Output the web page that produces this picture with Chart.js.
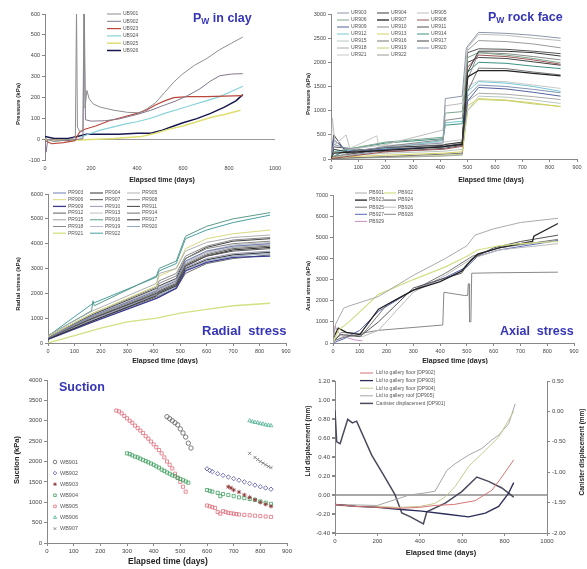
<!DOCTYPE html>
<html>
<head>
<meta charset="utf-8">
<script src="https://cdn.jsdelivr.net/npm/chart.js@4.4.1/dist/chart.umd.min.js"></script>
<style>
body { margin: 0; background: #fff; width: 587px; height: 569px; overflow: hidden; position: relative; }
canvas { position: absolute; }
</style>
</head>
<body>
<canvas id="c1"></canvas>
<canvas id="c2"></canvas>
<canvas id="c3"></canvas>
<canvas id="c4"></canvas>
<canvas id="c5"></canvas>
<canvas id="c6"></canvas>
<script>
// ---------- Pw in clay ----------
const ub901 = [[0,5],[40,-10],[100,0],[132,10],[137,620],[141,60],[150,40],[165,40],[169,620],[174,150],[182,235],[192,195],[210,170],[240,155],[300,140],[360,130],[410,128],[440,145],[480,175],[520,225],[560,275],[600,315],[650,355],[700,385],[760,430],[810,460],[860,490]];
const ub902 = [[0,0],[5,-60],[12,0],[100,-5],[165,5],[171,610],[176,95],[200,88],[260,90],[320,98],[400,120],[460,140],[520,165],[570,185],[620,210],[670,240],[720,280],[760,305],[810,313],[860,315]];
const ub923 = [[0,-5],[30,-20],[80,-15],[130,-5],[150,35],[170,48],[220,65],[280,90],[340,108],[400,125],[440,140],[480,165],[520,185],[560,200],[620,205],[700,205],[780,208],[860,210]];
const ub924 = [[150,10],[200,30],[240,45],[290,58],[350,75],[400,85],[460,102],[520,125],[580,145],[640,165],[700,185],[760,205],[810,230],[860,255]];
const ub925 = [[0,0],[100,-5],[200,0],[300,5],[420,15],[480,30],[540,50],[600,65],[660,85],[720,105],[780,120],[850,140]];
const ub926 = [[0,15],[40,5],[100,5],[140,15],[180,25],[250,25],[320,25],[400,30],[460,30],[510,45],[560,65],[600,80],[660,100],[720,125],[780,155],[830,185],[860,215]];

// ---------- Pw rock face ----------
const ur903 = [[0,50],[10,300],[60,220],[100,180],[200,250],[410,330],[418,1250],[480,1300],[495,2300],[540,2620],[640,2600],[740,2560],[840,2500]];
const ur904 = [[0,20],[10,200],[60,150],[200,240],[410,280],[418,300],[480,350],[500,1800],[540,2230],[640,2230],[740,2200],[840,2130]];
const ur905 = [[0,100],[5,850],[15,300],[55,500],[70,200],[200,300],[410,600],[418,1100],[480,1150],[500,2300],[540,2580],[640,2560],[740,2500],[840,2450]];
const ur906 = [[0,30],[10,150],[200,350],[410,450],[418,950],[480,980],[500,2100],[540,2200],[640,2150],[740,2080],[840,1990]];
const ur907 = [[0,20],[10,120],[200,180],[410,250],[418,260],[480,300],[500,1700],[540,1830],[640,1830],[740,1770],[840,1720]];
const ur908 = [[0,10],[200,150],[410,200],[480,260],[500,1900],[540,2150],[640,2120],[740,2050],[840,1960]];
const ur909 = [[0,30],[10,400],[60,160],[200,200],[410,250],[480,300],[500,1200],[540,1480],[640,1450],[740,1380],[840,1300]];
const ur910 = [[0,40],[200,260],[410,400],[418,800],[480,850],[500,1650],[540,2200],[640,2180],[740,2120],[840,2050]];
const ur911 = [[0,20],[10,250],[200,150],[410,220],[480,280],[500,2200],[540,2280],[640,2270],[740,2230],[840,2180]];
const ur912 = [[0,20],[10,150],[200,220],[410,380],[418,750],[480,780],[500,1400],[540,1600],[640,1570],[740,1500],[840,1400]];
const ur913 = [[0,30],[200,80],[410,120],[480,150],[500,1100],[540,1250],[640,1220],[740,1160],[840,1080]];
const ur914 = [[0,20],[60,200],[200,330],[410,420],[418,700],[480,730],[500,1800],[540,2000],[640,1980],[740,1920],[840,1870]];
const ur915 = [[0,50],[200,120],[410,160],[480,200],[500,1000],[540,1300],[640,1280],[740,1220],[840,1150]];
const ur916 = [[0,10],[200,50],[410,100],[480,120],[500,1400],[540,1880],[640,1870],[740,1800],[840,1740]];
const ur917 = [[0,40],[10,500],[60,100],[200,200],[410,260],[480,320],[500,2000],[540,2100],[640,2080],[740,2010],[840,1940]];
const ur918 = [[0,10],[200,30],[410,60],[480,80],[500,1200],[540,1360],[640,1340],[740,1290],[840,1230]];
const ur919 = [[0,15],[200,40],[410,70],[480,100],[500,1000],[540,1230],[640,1210],[740,1140],[840,1090]];
const ur920 = [[0,25],[200,180],[410,260],[480,300],[500,1300],[540,1530],[640,1500],[740,1440],[840,1370]];
const ur921 = [[0,35],[168,480],[175,250],[200,280],[410,350],[480,400],[500,1500],[540,1620],[640,1600],[740,1530],[840,1460]];
const ur922 = [[0,40],[200,220],[410,300],[480,340],[500,2250],[540,2450],[640,2430],[740,2380],[840,2300]];

// ---------- Radial stress ----------
const pr903 = [[0,200],[170,1100],[410,2100],[420,2200],[485,2500],[520,3300],[600,3700],[700,3900],[840,4000]];
const pr904 = [[0,150],[170,900],[410,1900],[420,2000],[485,2300],[520,3000],[600,3350],[700,3550],[840,3650]];
const pr905 = [[0,300],[170,1300],[410,2400],[420,2800],[485,3000],[520,3700],[600,4050],[700,4250],[840,4350]];
const pr906 = [[0,250],[170,1200],[410,2300],[420,2700],[485,3000],[520,3800],[600,4200],[700,4400],[840,4550]];
const pr907 = [[0,200],[170,1000],[410,2000],[420,2100],[485,2400],[520,3100],[600,3500],[700,3700],[840,3800]];
const pr908 = [[0,180],[170,1050],[410,2050],[420,2400],[485,2700],[520,3400],[600,3800],[700,4000],[840,4100]];
const pr909 = [[0,150],[170,850],[410,1800],[420,1850],[485,2200],[520,2900],[600,3250],[700,3450],[840,3500]];
const pr910 = [[0,200],[170,950],[410,1950],[420,2000],[485,2300],[520,3050],[600,3400],[700,3600],[840,3700]];
const pr911 = [[0,250],[170,1150],[410,2200],[420,2300],[485,2600],[520,3400],[600,3850],[700,4100],[840,4200]];
const pr912 = [[0,180],[170,1000],[410,2000],[420,2050],[485,2350],[520,3150],[600,3550],[700,3800],[840,3900]];
const pr913 = [[0,220],[170,1100],[410,2150],[420,2250],[485,2550],[520,3300],[600,3700],[700,3950],[840,4050]];
const pr914 = [[0,170],[170,900],[410,1850],[420,1900],[485,2200],[520,2800],[600,3200],[700,3400],[840,3550]];
const pr915 = [[0,200],[170,1050],[410,2050],[420,2150],[485,2450],[520,3200],[600,3600],[700,3850],[840,3950]];
const pr916 = [[0,300],[165,1300],[170,1700],[175,1500],[410,2700],[420,3000],[485,3300],[520,4300],[600,4700],[700,5000],[840,5250]];
const pr917 = [[0,200],[170,1000],[410,1950],[420,2050],[485,2350],[520,3100],[600,3500],[700,3750],[840,3850]];
const pr918 = [[0,250],[170,1200],[410,2250],[420,2500],[485,2800],[520,3500],[600,3900],[700,4150],[840,4250]];
const pr919 = [[0,200],[170,1100],[410,2100],[420,2200],[485,2500],[520,3250],[600,3650],[700,3900],[840,4000]];
const pr920 = [[0,150],[170,950],[410,1900],[420,1950],[485,2250],[520,2950],[600,3300],[700,3500],[840,3600]];
const pr921 = [[0,0],[100,300],[200,600],[300,850],[410,1000],[500,1200],[600,1350],[700,1500],[840,1600]];
const pr922 = [[0,280],[170,1600],[410,2650],[420,2900],[485,3200],[520,4200],[600,4550],[700,4850],[840,5150]];

// ---------- Axial stress ----------
const pb901 = [[0,0],[10,900],[40,1650],[60,1750],[170,2200],[300,3200],[420,4000],[500,4600],[530,5100],[600,5400],[700,5700],[840,5900]];
const pb902 = [[0,0],[20,600],[60,1000],[170,2300],[300,3000],[420,3600],[500,4100],[540,4400],[620,4600],[700,4700],[840,4800]];
const pb923 = [[0,200],[20,700],[50,500],[100,400],[170,1600],[300,2500],[400,2900],[480,3400],[500,3700],[540,4200],[620,4500],[700,4700],[745,4800],[750,5050],[840,5650]];
const pb924 = [[0,100],[30,400],[100,300],[170,1000],[300,2600],[400,3000],[480,3300],[520,4000],[600,4500],[700,4800],[840,5100]];
const pb925 = [[0,100],[50,300],[110,400],[200,1800],[300,2500],[420,3300],[520,4100],[620,4500],[840,4900]];
const pb926 = [[0,50],[50,400],[110,300],[170,600],[300,2400],[420,3200],[520,4000],[620,4400],[840,4700]];
const pb927 = [[0,0],[40,200],[100,600],[170,1500],[300,2500],[420,3100],[500,3600],[540,4100],[620,4400],[840,4850]];
const pb928 = [[0,0],[30,500],[100,450],[170,600],[410,850],[414,2400],[490,2250],[503,2250],[505,2800],[508,2800],[510,1000],[515,1000],[518,3300],[600,3320],[840,3350]];
const pb929 = [[0,200],[8,800],[20,500],[40,300],[80,150],[110,100]];

// ---------- Suction ----------
const wb901 = [[450,3100],[460,3050],[470,3000],[480,2950],[490,2900],[500,2800],[510,2700],[520,2600],[530,2450],[540,2330]];
const wb902 = [[600,1820],[610,1780],[620,1750],[640,1700],[660,1660],[680,1620],[700,1580],[720,1540],[740,1500],[760,1460],[780,1420],[800,1380],[820,1350],[840,1320]];
const wb903 = [[680,1380],[690,1350],[700,1300],[720,1250],[740,1180],[760,1120],[780,1060],[800,1000],[820,950],[840,900]];
const wb904 = [[300,2200],[310,2180],[320,2150],[330,2120],[340,2100],[350,2070],[360,2040],[370,2010],[380,1980],[390,1950],[400,1920],[410,1880],[420,1850],[430,1800],[440,1770],[450,1730],[460,1700],[470,1660],[480,1640],[490,1600],[500,1570],[510,1540],[520,1510],[530,1480],[600,1300],[610,1280],[620,1260],[640,1230],[650,1150],[660,1200],[680,1180],[700,1150],[720,1120],[740,1100],[760,1080],[780,1060],[800,1020],[820,990],[840,960]];
const wb905 = [[260,3250],[270,3230],[280,3180],[290,3120],[300,3060],[310,3000],[320,2950],[330,2880],[340,2820],[350,2760],[360,2700],[370,2620],[380,2560],[390,2490],[400,2420],[410,2350],[420,2280],[430,2200],[440,2100],[450,2000],[460,1920],[470,1830],[480,1700],[490,1600],[500,1500],[510,1380],[520,1260],[600,920],[610,900],[620,880],[630,860],[640,760],[650,720],[660,780],[670,760],[680,740],[690,730],[700,720],[710,710],[720,700],[740,690],[760,680],[780,670],[800,660],[820,650],[840,640]];
const wb906 = [[760,3000],[770,2980],[780,2960],[790,2950],[800,2930],[810,2920],[820,2900],[830,2890],[840,2880]];
const wb907 = [[760,2200],[780,2100],[790,2050],[800,2000],[810,1960],[820,1920],[830,1880],[840,1850]];

// ---------- Displacement ----------
const dp902 = [[0,-0.10],[100,-0.12],[200,-0.13],[300,-0.14],[400,-0.13],[472,-0.11],[560,-0.10],[661,-0.06],[740,0.05],[787,0.19],[843,0.37]];
const dp903 = [[0,-0.10],[100,-0.12],[200,-0.13],[300,-0.15],[409,-0.17],[520,-0.20],[630,-0.23],[709,-0.19],[772,-0.12],[819,0.02],[843,0.13]];
const dp904 = [[0,-0.11],[100,-0.12],[200,-0.12],[300,-0.13],[400,-0.12],[470,-0.09],[520,-0.02],[567,0.09],[630,0.30],[709,0.47],[772,0.61],[843,0.88]];
const dp905 = [[0,-0.10],[200,-0.11],[350,0.00],[420,0.02],[472,0.04],[528,0.26],[567,0.33],[630,0.42],[693,0.49],[740,0.58],[772,0.63],[819,0.75],[850,0.96]];
const dp901 = [[0,0.02],[8,-0.50],[24,-0.53],[60,-0.13],[82,-0.19],[102,-0.16],[173,-0.72],[228,-1.04],[283,-1.37],[315,-1.67],[354,-1.73],[417,-1.85],[433,-1.65],[520,-1.51],[598,-1.32],[669,-1.08],[724,-1.15],[787,-1.26],[843,-1.41]];

const FONT = '"Liberation Sans", Arial, sans-serif';
const BLUE = '#3535b5';

// draws panel titles, manual axis titles and the legends
const overlay = {
  id: 'overlay',
  afterDraw(chart, args, o) {
    const ctx = chart.ctx;
    ctx.save();
    (o.texts || []).forEach(t => {
      ctx.save();
      ctx.translate(t.x, t.y);
      if (t.rot) ctx.rotate(t.rot * Math.PI / 180);
      ctx.fillStyle = t.color || '#222';
      ctx.textBaseline = 'middle';
      if (t.parts) {
        ctx.textAlign = 'left';
        let x = 0;
        t.parts.forEach(p => {
          ctx.font = p.font;
          ctx.fillText(p.text, x, p.dy || 0);
          x += ctx.measureText(p.text).width;
        });
      } else {
        ctx.textAlign = t.align || 'center';
        ctx.font = t.font;
        ctx.fillText(t.text, 0, 0);
      }
      ctx.restore();
    });
    const L = o.legend;
    if (L) {
      ctx.font = L.font;
      ctx.textBaseline = 'middle';
      ctx.textAlign = 'left';
      chart.data.datasets.forEach((ds, i) => {
        const c = i % L.cols, r = Math.floor(i / L.cols);
        const x = L.x + c * L.dx, y = L.y + r * L.dy;
        ctx.strokeStyle = ds.borderColor;
        if (L.marker && Chart.helpers && Chart.helpers.drawPoint) {
          ctx.fillStyle = 'rgba(0,0,0,0)';
          ctx.lineWidth = 0.8;
          Chart.helpers.drawPoint(ctx, {pointStyle: ds.pointStyle, radius: 1.8, rotation: 0, borderWidth: 0.8}, x + L.len / 2, y);
        } else {
          ctx.lineWidth = ds.borderWidth || 1;
          ctx.beginPath();
          ctx.moveTo(x, y);
          ctx.lineTo(x + L.len, y);
          ctx.stroke();
        }
        ctx.fillStyle = L.color || '#555';
        ctx.fillText(ds.label, x + L.len + L.gap, y);
      });
    }
    ctx.restore();
  }
};

function lineSet(label, data, color, width, axis) {
  return { label: label, data: data, borderColor: color, backgroundColor: color, borderWidth: width || 1,
           pointRadius: 0, tension: 0, yAxisID: axis || 'y' };
}

function dotSet(label, data, color, style) {
  return { label: label, data: data, borderColor: color, backgroundColor: 'rgba(0,0,0,0)', showLine: false,
           pointStyle: style, pointRadius: 2.2, pointBorderWidth: 0.8, yAxisID: 'y' };
}

function axisX(o, h) {
  return {
    type: 'linear', min: o.min, max: o.max,
    ticks: { stepSize: o.step, font: { family: FONT, size: o.fs }, color: '#444', padding: 2, maxRotation: 0, autoSkip: false, callback: v => v },
    grid: { display: o.grid !== false, drawOnChartArea: false, tickLength: 3, color: '#888' },
    border: { display: o.border !== false, color: '#888' },
    afterFit: s => { s.height = h; }
  };
}

function axisY(o, w, pos) {
  return {
    type: 'linear', position: pos, min: o.min, max: o.max,
    ticks: { stepSize: o.step, font: { family: FONT, size: o.fs }, color: '#444', padding: 2, autoSkip: false, callback: o.fmt || (v => v) },
    grid: { drawOnChartArea: !!o.zero, color: c => (o.zero && c.tick && c.tick.value === 0) ? o.zero : 'rgba(0,0,0,0)',
            lineWidth: o.zeroW || 1, tickColor: '#888', tickLength: 3 },
    border: { color: '#888' },
    afterFit: s => { s.width = w; }
  };
}

function shift(o, box) {
  const out = {};
  if (o.texts) out.texts = o.texts.map(t => Object.assign({}, t, { x: t.x - box.x, y: t.y - box.y }));
  if (o.legend) out.legend = Object.assign({}, o.legend, { x: o.legend.x - box.x, y: o.legend.y - box.y });
  return out;
}

function panel(id, box, area, opt) {
  const cv = document.getElementById(id);
  cv.width = box.w; cv.height = box.h;
  cv.style.left = box.x + 'px'; cv.style.top = box.y + 'px';
  const scales = {
    x: axisX(opt.x, box.y + box.h - area.b),
    y: axisY(opt.y, area.l - box.x, 'left')
  };
  if (opt.y2) scales.y2 = axisY(opt.y2, box.x + box.w - area.r, 'right');
  return new Chart(cv, {
    type: 'line',
    data: { datasets: opt.datasets },
    options: {
      responsive: false, animation: false, events: [],
      layout: { padding: { left: 0, top: area.t - box.y, right: opt.y2 ? 0 : box.x + box.w - area.r, bottom: 0 } },
      plugins: { legend: { display: false }, tooltip: { enabled: false }, overlay: shift(opt.overlay, box) },
      scales: scales
    },
    plugins: [overlay]
  });
}

const tick1 = 5.5, tick2 = 6;
const yT1 = 'bold 6px ' + FONT, xT1 = 'bold 7px ' + FONT;
const big = 'bold 12.5px ' + FONT, sub = 'bold 8.5px ' + FONT;
const leg1 = '5px ' + FONT;

panel('c1', {x: 0, y: 0, w: 292, h: 184}, {l: 45, t: 14, r: 275, b: 160.5}, {
  x: { min: 0, max: 1000, step: 200, fs: tick1, border: false, grid: false },
  y: { min: -100, max: 600, step: 100, fs: tick1, zero: '#999' },
  datasets: [
    lineSet('UB901', ub901, '#8e8e8e', 1),
    lineSet('UB902', ub902, '#85778d', 1),
    lineSet('UB923', ub923, '#b9483c', 1.2),
    lineSet('UB924', ub924, '#86d2d8', 1.2),
    lineSet('UB925', ub925, '#dede72', 1.5),
    lineSet('UB926', ub926, '#16164e', 1.5)
  ],
  overlay: {
    texts: [
      { parts: [{ text: 'P', font: big }, { text: 'W', font: sub, dy: 3 }, { text: ' in clay', font: big }], x: 193, y: 19, color: BLUE },
      { text: 'Pressure (kPa)', x: 18, y: 104, rot: -90, font: yT1 },
      { text: 'Elapsed time (days)', x: 162, y: 180, font: xT1 }
    ],
    legend: { x: 107, y: 14, cols: 1, dx: 0, dy: 7.3, len: 14, gap: 2, font: leg1 }
  }
});

panel('c2', {x: 295, y: 0, w: 292, h: 184}, {l: 331, t: 14, r: 577, b: 159}, {
  x: { min: 0, max: 900, step: 100, fs: tick1 },
  y: { min: 0, max: 3000, step: 500, fs: tick1 },
  datasets: [
    lineSet('UR903', ur903, '#8d96a8'), lineSet('UR904', ur904, '#3a3a3a'), lineSet('UR905', ur905, '#bdbdbd'),
    lineSet('UR906', ur906, '#7fa58e'), lineSet('UR907', ur907, '#222222', 1.3), lineSet('UR908', ur908, '#9c5656'),
    lineSet('UR909', ur909, '#5462a0'), lineSet('UR910', ur910, '#8a8a8a'), lineSet('UR911', ur911, '#555555'),
    lineSet('UR912', ur912, '#74c8d2'), lineSet('UR913', ur913, '#d6d064'), lineSet('UR914', ur914, '#3c9282'),
    lineSet('UR915', ur915, '#b8c8c0'), lineSet('UR916', ur916, '#777777'), lineSet('UR917', ur917, '#444444'),
    lineSet('UR918', ur918, '#aaaaaa'), lineSet('UR919', ur919, '#bcd274'), lineSet('UR920', ur920, '#8292b2'),
    lineSet('UR921', ur921, '#c8c8c8'), lineSet('UR922', ur922, '#9a9a9a')
  ],
  overlay: {
    texts: [
      { parts: [{ text: 'P', font: big }, { text: 'W', font: sub, dy: 3 }, { text: ' rock face', font: big }], x: 488, y: 18, color: BLUE },
      { text: 'Pressure (kPa)', x: 308, y: 94, rot: -90, font: yT1 },
      { text: 'Elapsed time (days)', x: 491, y: 180, font: xT1 }
    ],
    legend: { x: 337, y: 13, cols: 3, dx: 40, dy: 7, len: 12, gap: 2, font: leg1 }
  }
});

panel('c3', {x: 0, y: 182, w: 295, h: 182}, {l: 48, t: 194, r: 286, b: 343}, {
  x: { min: 0, max: 900, step: 100, fs: tick1 },
  y: { min: 0, max: 6000, step: 1000, fs: tick1 },
  datasets: [
    lineSet('PR903', pr903, '#6f7fb0'), lineSet('PR904', pr904, '#333333'), lineSet('PR905', pr905, '#b0b0b0'),
    lineSet('PR906', pr906, '#d8d880'), lineSet('PR907', pr907, '#555555'), lineSet('PR908', pr908, '#888888'),
    lineSet('PR909', pr909, '#3a3a90', 1.3), lineSet('PR910', pr910, '#9a9ab8'), lineSet('PR911', pr911, '#444444'),
    lineSet('PR912', pr912, '#606060'), lineSet('PR913', pr913, '#c0c0c0'), lineSet('PR914', pr914, '#707070'),
    lineSet('PR915', pr915, '#a0a0a0'), lineSet('PR916', pr916, '#5a9a8a'), lineSet('PR917', pr917, '#2a2a2a'),
    lineSet('PR918', pr918, '#8a8a8a'), lineSet('PR919', pr919, '#b8b8d0'), lineSet('PR920', pr920, '#90a8c0'),
    lineSet('PR921', pr921, '#d4e084', 1.3), lineSet('PR922', pr922, '#4aa0a0')
  ],
  overlay: {
    texts: [
      { text: 'Radial  stress', x: 202, y: 331, align: 'left', font: 'bold 13px ' + FONT, color: BLUE },
      { text: 'Radial stress (kPa)', x: 18, y: 284, rot: -90, font: yT1 },
      { text: 'Elapsed time (days)', x: 165, y: 361, font: xT1 }
    ],
    legend: { x: 53, y: 193, cols: 3, dx: 37, dy: 6.7, len: 13, gap: 2, font: leg1 }
  }
});

panel('c4', {x: 295, y: 182, w: 292, h: 182}, {l: 333, t: 195, r: 574, b: 343}, {
  x: { min: 0, max: 900, step: 100, fs: tick1 },
  y: { min: 0, max: 7000, step: 1000, fs: tick1 },
  datasets: [
    lineSet('PB901', pb901, '#aaaaaa'), lineSet('PB902', pb902, '#d2de84', 1.2),
    lineSet('PB923', pb923, '#222222', 1.3), lineSet('PB924', pb924, '#555555'),
    lineSet('PB925', pb925, '#777777'), lineSet('PB926', pb926, '#bbbbbb'),
    lineSet('PB927', pb927, '#5868b8'), lineSet('PB928', pb928, '#888888'),
    lineSet('PB929', pb929, '#c890c0')
  ],
  overlay: {
    texts: [
      { text: 'Axial  stress', x: 500, y: 332, align: 'left', font: 'bold 12.5px ' + FONT, color: BLUE },
      { text: 'Axial stress (kPa)', x: 308, y: 286, rot: -90, font: yT1 },
      { text: 'Elapsed time (days)', x: 455, y: 361, font: xT1 }
    ],
    legend: { x: 355, y: 193, cols: 2, dx: 29, dy: 7.1, len: 12, gap: 2, font: leg1 }
  }
});

panel('c5', {x: 0, y: 362, w: 295, h: 207}, {l: 47, t: 380, r: 287, b: 543}, {
  x: { min: 0, max: 900, step: 100, fs: tick2 },
  y: { min: 0, max: 4000, step: 500, fs: tick2 },
  datasets: [
    dotSet('WB901', wb901, '#5e5e5e', 'circle'),
    dotSet('WB902', wb902, '#5252a2', 'rectRot'),
    dotSet('WB903', wb903, '#8e3434', 'star'),
    dotSet('WB904', wb904, '#3f9f60', 'rect'),
    dotSet('WB905', wb905, '#e0707e', 'rect'),
    dotSet('WB906', wb906, '#4fb294', 'triangle'),
    dotSet('WB907', wb907, '#707070', 'crossRot')
  ],
  overlay: {
    texts: [
      { text: 'Suction', x: 59, y: 388, align: 'left', font: 'bold 12.5px ' + FONT, color: BLUE },
      { text: 'Suction (kPa)', x: 17, y: 460, rot: -90, font: 'bold 7.5px ' + FONT },
      { text: 'Elapsed time (days)', x: 168, y: 562, font: 'bold 8.5px ' + FONT }
    ],
    legend: { x: 53, y: 462, cols: 1, dx: 0, dy: 11.1, len: 4, gap: 3, font: '5.5px ' + FONT, marker: true }
  }
});

panel('c6', {x: 295, y: 362, w: 292, h: 207}, {l: 335, t: 381, r: 547, b: 533}, {
  x: { min: 0, max: 1000, step: 200, fs: tick2 },
  y: { min: -0.4, max: 1.2, step: 0.2, fs: tick2, fmt: v => v.toFixed(2), zero: '#a8a8a8', zeroW: 2 },
  y2: { min: -2, max: 0.5, step: 0.5, fs: tick2, fmt: v => v.toFixed(2) },
  datasets: [
    lineSet('Lid to gallery floor [DP902]', dp902, '#d87474', 1),
    lineSet('Lid to gallery floor [DP903]', dp903, '#2c2c5a', 1.3),
    lineSet('Lid to gallery floor [DP904]', dp904, '#c8c890', 1),
    lineSet('Lid to gallery roof [DP905]', dp905, '#a6a6a6', 1),
    lineSet('Canister displacement [DP901]', dp901, '#4a4a5c', 1.5, 'y2')
  ],
  overlay: {
    texts: [
      { text: 'Lid displacement (mm)', x: 308, y: 441, rot: -90, font: 'bold 6.5px ' + FONT },
      { text: 'Canister displacement (mm)', x: 582, y: 452, rot: -90, font: 'bold 6.5px ' + FONT },
      { text: 'Elapsed time (days)', x: 441, y: 553, font: 'bold 7.5px ' + FONT }
    ],
    legend: { x: 360, y: 373, cols: 1, dx: 0, dy: 7.6, len: 13, gap: 3, font: leg1 }
  }
});
</script>
</body>
</html>
